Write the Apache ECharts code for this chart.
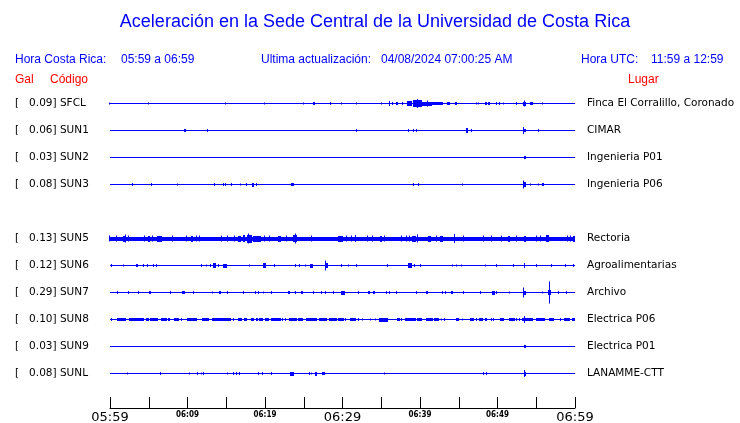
<!DOCTYPE html>
<html><head><meta charset="utf-8">
<script src="https://cdn.jsdelivr.net/npm/echarts@6/dist/echarts.min.js"></script>
<style>html,body{margin:0;padding:0;background:#fff;overflow:hidden}#c{width:740px;height:423px}</style>
</head><body><div id="c"></div>
<script>
// ---- data ----
const TITLE = 'Aceleración en la Sede Central de la Universidad de Costa Rica';
const TIME_LABELS = ['05:59','06:09','06:19','06:29','06:39','06:49','06:59']; // every 10 min
const CODES  = ['SFCL','SUN1','SUN2','SUN3','SUN5','SUN6','SUN7','SUN8','SUN9','SUNL'];
const PEAKS  = [0.09, 0.06, 0.03, 0.08, 0.13, 0.12, 0.29, 0.10, 0.03, 0.08];
const PLACES = ['Finca El Corralillo, Coronado','CIMAR','Ingenieria P01','Ingenieria P06',
                'Rectoria','Agroalimentarias','Archivo','Electrica P06','Electrica P01','LANAMME-CTT'];
const SLOTS  = [0,1,2,3,5,6,7,8,9,10];   // trace order (slot 4 empty)

// events per station: [start minute, end minute, half-amplitude (counts)] ; minutes after 05:59
const SFCL = [[0,0,1],[5.07,5.07,1],[15,15,1],[20.04,20.04,1],[25,25,1],[26.2,26.4,1.5],[28.48,28.48,1.5],[29.97,29.97,1],
 [31.9,31.9,1],[35.06,35.06,1],[36.13,36.13,2.5],[36.55,36.55,1.5],[36.9,37.2,1.5],[37.85,37.85,1.5],[38.28,38.93,2.5],
 [39.06,40.22,3.5],[39.78,39.78,4.5],[40.22,41.51,2],[41.07,41.07,3],[41.51,42.8,1.5],[43,43,1.5],[43.45,43.87,1.5],
 [44.55,44.8,1.5],[47.3,47.3,1],[47.65,47.65,1],[48.4,48.6,1.5],[48.75,48.95,1.5],[49.97,49.97,1.5],[50.32,50.32,1.5],
 [50.84,50.84,1],[52.55,52.55,1.5],[53.33,53.77,2],[53.6,53.6,3],[54.19,54.54,1.5],[55.9,55.9,1]];
const SUN1 = [[9.6,9.8,1.5],[12.68,12.68,1.5],[31.83,31.83,1.5],[38.58,38.58,1.5],[39.23,39.23,1.5],[39.5,39.65,1.5],
 [45.94,46.23,2.5],[46.67,46.67,1.5],[53.46,53.46,3.5],[53.4,53.6,1.5],[55.32,55.32,1.5]];
const SUN2 = [[53.4,53.6,1.5]];
const SUN3 = [[3,3,1.5],[5.46,5.46,1.5],[8.81,8.81,1],[13.59,13.59,1.5],[14.75,14.75,1.5],[15,15,1.5],[15.78,15.78,1.5],
 [16.94,16.94,1],[17.72,17.72,1.5],[18.3,18.5,2],[19,19,1.5],[23.32,23.65,1.5],[39.23,39.23,1.5],[39.91,39.91,1.5],
 [45.59,45.59,1],[53.46,53.68,2.5],[53.46,53.46,4],[54.32,54.32,1],[55.39,55.39,1],[55.7,55.9,1.5]];
const SUN5 = [[0,60,2],[0,0,3],[0.86,0.86,3],[1.72,2.15,3],[2.05,2.05,4],[2.45,2.45,3],[4.52,4.52,3],[4.86,5.16,3],
 [5.59,5.59,3],[6.03,6.67,3],[8.17,8.17,3],[9.9,9.9,3],[10.45,10.75,3],[11.19,11.19,3],[11.61,11.61,3],[14.41,14.41,3],
 [15.26,15.26,3],[16.13,16.13,3],[16.55,16.99,3],[17.12,17.42,3.5],[17.64,18.28,4],[17.97,17.97,5],[18.49,19.57,3],
 [20,20,3],[20.65,20.65,3],[21.72,22.06,3],[22.8,22.8,3],[23.65,24.22,3.5],[23.96,23.96,5],[26.03,26.03,3],
 [29.46,30.1,3],[30.54,30.54,3],[31.19,31.19,3],[31.74,31.74,3.5],[33.33,33.33,3],[33.97,33.97,3],[34.84,35.06,3],
 [35.48,35.48,3],[37.64,37.64,3],[38.28,38.28,3],[38.71,38.71,3],[38.93,39.48,3],[39.78,39.78,4],[41.07,41.51,3],
 [42.15,42.15,3],[42.58,42.93,3],[44.52,44.52,4.5],[45.68,45.68,3],[48.26,48.26,3],[49.25,49.25,3],[50.54,50.54,3],
 [51.39,51.7,3],[52.48,52.48,3],[53.42,53.68,3],[55.06,55.06,3],[55.57,55.57,3],[56.26,56.68,3.5],[59.14,59.14,3],
 [59.48,59.48,3],[59.78,60,3]];
const SUN6 = [[0.3,0.3,1.5],[1.85,1.85,1],[3.32,3.52,1.5],[4.43,4.43,1.5],[4.94,4.94,1.5],[5.72,5.72,1.5],[6.1,6.1,1.5],
 [11.83,11.83,1.5],[12.48,12.48,1],[13.03,13.03,1.5],[13.33,13.68,2.5],[14.1,14.1,1.5],[14.62,15.19,2],[18.1,18.1,1],
 [19.78,20.22,2.5],[21.29,21.29,1.5],[23.96,23.96,1.5],[24.52,24.52,1.5],[25.25,25.25,1],[25.81,26.23,2],[27.74,28.09,2.5],
 [27.87,27.87,5],[29.97,29.97,1.5],[30.88,30.88,1],[31.91,31.91,1.5],[35.91,35.91,1.5],[38.49,39.06,2.5],[39.35,39.35,1.5],
 [40.09,40.09,1.5],[44.3,44.3,1],[44.74,44.74,1],[45.38,45.38,1],[48.52,48.52,1],[49.97,49.97,1.5],[52.13,52.13,1.5],
 [53.55,53.55,2.5],[55.14,55.14,1.5],[57.07,57.07,1.5],[58.8,58.8,1.5],[59.91,59.91,1.5]];
const SUN7 = [[0.99,0.99,1.5],[2.45,2.45,1.5],[3.78,3.78,1.5],[5.05,5.25,1.5],[7.83,7.83,1.5],[9.33,9.68,1.5],[10.84,10.84,1.5],
 [13.33,13.33,1],[14,14.2,1.5],[15.26,15.26,1.5],[17.29,17.29,1.5],[18.8,18.8,1.5],[19.23,19.23,1.5],[19.91,19.91,1],
 [20.86,20.86,1.5],[23,23.23,1.5],[24,24,1.5],[24.7,24.9,1.5],[26.32,26.32,1.5],[27.39,27.39,1.5],[27.83,27.83,1.5],
 [28.94,28.94,1.5],[29.81,30.32,2],[32.13,32.13,1.5],[33.33,33.55,1.5],[33.97,34.28,1.5],[35.78,35.78,1.5],[36.13,36.13,1.5],
 [36.99,36.99,1.5],[39.65,39.65,1.5],[40.77,41.07,1.5],[42.93,42.93,1.5],[43.35,43.35,1.5],[44,44.2,1.5],[45.68,45.68,1.5],
 [47.87,47.87,1.5],[49.25,49.68,2],[49.9,49.9,1.5],[51.61,51.61,1],[53.46,53.46,5],[53.4,53.6,2],[55.9,55.9,1],
 [56.55,56.99,2.5],[56.81,56.81,11],[57.97,57.97,1.5],[58.93,58.93,1.5]];
const SUN8 = [[0.22,0.22,1.5],[0.86,2.03,1.5],[2.45,4.43,1.5],[4.65,5.03,1.5],[5.16,6.23,1.5],[6.54,7.32,1.5],[7.52,7.83,1.5],
 [8.3,8.9,1.5],[9.25,9.25,1.5],[9.97,11.26,1.5],[11.83,12.77,1.5],[13.2,15.7,1.5],[16.04,16.04,1.5],[16.48,16.99,1.5],
 [17.29,17.64,1.5],[18.15,18.58,1.5],[18.8,19.06,1.5],[19.23,19.74,1.5],[20,20.52,1.5],[20.74,22.06,1.5],[22.28,22.28,1.5],
 [22.67,22.67,1.5],[23.1,24.09,1.5],[24.3,24.9,1.5],[25.29,26.67,1.5],[27.01,28.09,1.5],[28.3,29.33,1.5],[29.46,30.23,1.5],
 [30.45,30.45,1.5],[30.97,31.74,1.5],[32.17,32.17,1.5],[32.61,32.61,1],[33.64,33.64,1],[34.32,34.32,1],[34.75,35.96,2],
 [37.07,37.42,1.5],[37.72,37.72,1.5],[38.06,39.48,1.5],[39.65,40.3,1.5],[40.77,41.64,1.5],[41.81,42.49,1.5],[42.8,42.8,1],
 [43.23,43.23,1.5],[44.61,45.03,1.5],[45.51,45.51,1],[46.45,46.97,1.5],[47.32,47.32,1.5],[47.57,48.09,1.5],[48.39,48.68,1.5],
 [49.29,49.29,1.5],[49.55,49.55,1.5],[50.32,50.84,1.5],[51.52,52.26,1.5],[52.55,52.55,1.5],[52.9,52.9,1.5],[53.12,53.33,1.5],
 [53.55,53.55,3.5],[53.55,54.62,1.5],[54.93,56.13,1.5],[56.65,57.29,1.5],[58.19,58.19,1.5],[58.58,59.35,1.5],[59.57,59.91,1.5]];
const SUN9 = [[53.46,53.7,1.5]];
const SUNL = [[2.36,2.36,1],[6.58,6.58,1.5],[10.36,10.36,1],[11.39,11.39,1.5],[11.91,11.91,1],[12.17,12.17,1.5],[15.26,15.26,1],
 [16.04,16.04,1.5],[16.35,16.35,1.5],[16.77,16.77,1.5],[19.26,19.26,1.5],[19.65,19.78,1.5],[20.86,20.86,1.5],[23.23,23.74,2],
 [25.81,25.81,1.5],[26.1,26.1,1],[26.45,26.67,2],[27.32,27.65,1.5],[35.48,35.48,1],[48.26,48.26,1.5],[48.61,48.61,1.5],
 [53.46,53.77,2],[53.5,53.5,3.5]];
const TRACES = [SFCL,SUN1,SUN2,SUN3,SUN5,SUN6,SUN7,SUN8,SUN9,SUNL];
const WINDOW_MIN = 60;
const COUNTS_PER_ROW = 27;

// ---- chart ----
const BLUE = '#0000ff';
const items = [];
TRACES.forEach((tr, i) => {
  items.push([0, WINDOW_MIN, SLOTS[i], 0]);            // baseline
  tr.forEach(e => items.push([e[0], e[1], SLOTS[i], e[2]]));
});

function renderItem(params, api) {
  const t0 = api.value(0), t1 = api.value(1), slot = api.value(2), amp = api.value(3);
  const a = api.coord([t0, slot]), b = api.coord([t1, slot]);
  const yc = Math.floor(a[1]) + 0.5;
  if (amp === 0) {
    return {type:'line', shape:{x1:a[0], y1:yc, x2:b[0], y2:yc}, style:{stroke:BLUE, lineWidth:1}};
  }
  const h = Math.abs(api.size([0, amp / COUNTS_PER_ROW])[1]);
  if (Math.abs(b[0] - a[0]) < 1) {
    const x = Math.round(a[0]) - 0.5;
    return {type:'line', shape:{x1:x, y1:yc - h, x2:x, y2:yc + h}, style:{stroke:BLUE, lineWidth:1}};
  }
  const top = Math.round(yc - h);
  return {type:'rect', shape:{x:Math.round(a[0]), y:top, width:Math.max(1, Math.round(b[0] - a[0])), height:Math.round(2 * h)},
          style:{fill:BLUE}};
}

function slotIndex(v) { return SLOTS.indexOf(Math.round(v)); }

const LABEL_FONT = 'DejaVu Sans';
const HDR = '12px "Liberation Sans", Arial';
const chart = echarts.init(document.getElementById('c'), null, {renderer:'canvas'});
chart.setOption({
  animation:false,
  backgroundColor:'#fff',
  graphic:[
    {type:'text', x:375, y:22, style:{text:TITLE, textAlign:'center', textVerticalAlign:'middle', fill:BLUE, font:'18px "Liberation Sans", Arial'}},
    {type:'text', x:15, y:60, style:{text:'Hora Costa Rica:', textVerticalAlign:'middle', fill:BLUE, font:HDR}},
    {type:'text', x:121, y:60, style:{text:'05:59 a 06:59', textVerticalAlign:'middle', fill:BLUE, font:HDR}},
    {type:'text', x:261, y:60, style:{text:'Ultima actualización:', textVerticalAlign:'middle', fill:BLUE, font:HDR}},
    {type:'text', x:381, y:60, style:{text:'04/08/2024 07:00:25 AM', textVerticalAlign:'middle', fill:BLUE, font:HDR}},
    {type:'text', x:581, y:60, style:{text:'Hora UTC:', textVerticalAlign:'middle', fill:BLUE, font:HDR}},
    {type:'text', x:651, y:60, style:{text:'11:59 a 12:59', textVerticalAlign:'middle', fill:BLUE, font:HDR}},
    {type:'text', x:15, y:80, style:{text:'Gal', textVerticalAlign:'middle', fill:'#ff0000', font:HDR}},
    {type:'text', x:50, y:80, style:{text:'Código', textVerticalAlign:'middle', fill:'#ff0000', font:HDR}},
    {type:'text', x:628, y:80, style:{text:'Lugar', textVerticalAlign:'middle', fill:'#ff0000', font:HDR}}
  ],
  grid:{left:110, right:165, top:76, bottom:15, containLabel:false, outerBoundsMode:'none'},
  xAxis:{
    type:'value', min:0, max:WINDOW_MIN, interval:5, position:'bottom',
    axisLine:{show:true, onZero:false, lineStyle:{color:'#000', width:1}},
    axisTick:{show:true, inside:true, length:11, lineStyle:{color:'#000', width:1}},
    splitLine:{show:false},
    axisLabel:{
      margin:3, showMinLabel:true, showMaxLabel:true,
      formatter:v => {
        if (v % 10 !== 0) return '';
        const lab = TIME_LABELS[v / 10];
        return v % 30 === 0 ? '{big|' + lab + '}' : '{small|' + lab + '}';
      },
      rich:{
        big:{fontSize:13, fontFamily:LABEL_FONT, color:'#000'},
        small:{fontSize:8, fontWeight:'bold', fontFamily:'DejaVu Sans Condensed', color:'#000'}
      }
    }
  },
  yAxis:[
    {type:'value', inverse:true, min:-1, max:(332/27) - 1, interval:1, position:'left',
     axisLine:{show:false}, axisTick:{show:false}, splitLine:{show:false},
     axisLabel:{showMaxLabel:false, align:'left', margin:95, color:'#000', fontSize:10.5, fontFamily:LABEL_FONT,
       formatter:v => { const i = slotIndex(v); return i < 0 || Math.abs(v - Math.round(v)) > 1e-6 ? '' : '[   ' + PEAKS[i].toFixed(2) + '] ' + CODES[i]; }}},
    {type:'value', inverse:true, min:-1, max:(332/27) - 1, interval:1, position:'right',
     axisLine:{show:false}, axisTick:{show:false}, splitLine:{show:false},
     axisLabel:{showMaxLabel:false, align:'left', margin:12, color:'#000', fontSize:10.5, fontFamily:LABEL_FONT,
       formatter:v => { const i = slotIndex(v); return i < 0 || Math.abs(v - Math.round(v)) > 1e-6 ? '' : PLACES[i]; }}}
  ],
  series:[{
    type:'custom', renderItem, data:items, xAxisIndex:0, yAxisIndex:0,
    encode:{x:[0,1], y:2}, clip:false, silent:true
  }]
});
</script></body></html>
